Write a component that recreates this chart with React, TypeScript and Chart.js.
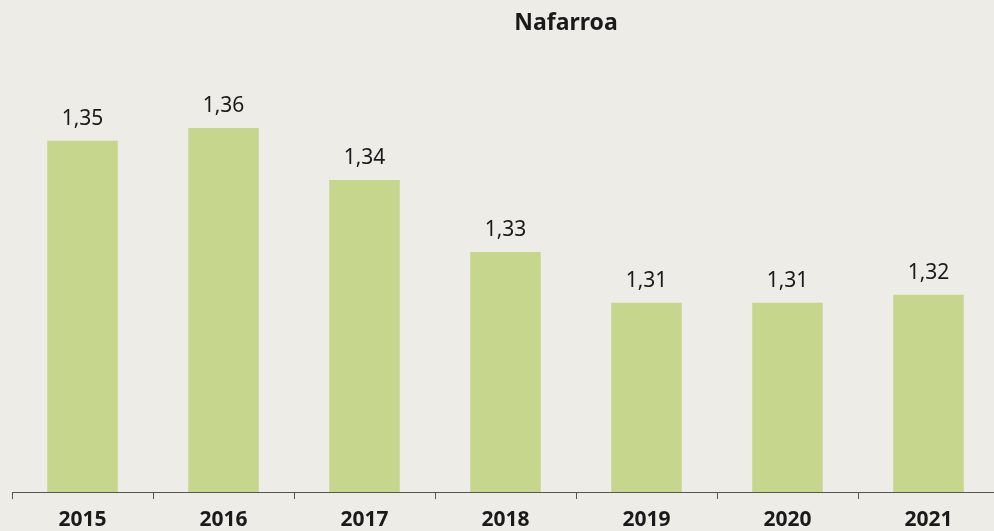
import React, { useEffect, useRef } from "react";
import { Chart, registerables } from "chart.js";

Chart.register(...registerables);

const categories = ["2015", "2016", "2017", "2018", "2019", "2020", "2021"];
const values = [1.3543, 1.3575, 1.3445, 1.3265, 1.3138, 1.3138, 1.3158];
const titleText = "Nafarroa";
const yMin = 1.2665;
const yMax = 1.3745;

const BG = "#EDECE7";
const BAR = "#C6D68C";
const INK = "#1A1A1A";
const FONT = "'Noto Sans', 'DejaVu Sans', sans-serif";

export default function App() {
  const ref = useRef<HTMLCanvasElement | null>(null);

  useEffect(() => {
    if (!ref.current) return;
    const labelPlugin = {
      id: "valueLabels",
      afterDatasetsDraw(chart: any) {
        const ctx = chart.ctx;
        const meta = chart.getDatasetMeta(0);
        ctx.save();
        ctx.fillStyle = INK;
        ctx.font = `400 21px ${FONT}`;
        ctx.textAlign = "center";
        ctx.textBaseline = "alphabetic";
        meta.data.forEach((bar: any, i: number) => {
          const txt = values[i].toFixed(2).replace(".", ",");
          ctx.fillText(txt, bar.x, bar.y - 16);
        });
        ctx.restore();
      },
    };
    const titlePlugin = {
      id: "customTitle",
      afterDraw(chart: any) {
        const ctx = chart.ctx;
        ctx.save();
        ctx.fillStyle = INK;
        ctx.font = `700 23px ${FONT}`;
        ctx.textAlign = "center";
        ctx.textBaseline = "alphabetic";
        ctx.fillText(titleText, chart.width * 0.566, 30);
        ctx.restore();
      },
    };
    const chart = new Chart(ref.current, {
      type: "bar",
      data: {
        labels: categories,
        datasets: [
          {
            data: values,
            backgroundColor: BAR,
            borderWidth: 0,
            categoryPercentage: 1,
            barPercentage: 0.5,
          },
        ],
      },
      options: {
        responsive: false,
        animation: false,
        layout: { padding: { left: 12, right: 1, top: 60, bottom: 0 } },
        plugins: {
          legend: { display: false },
          title: { display: false },
          tooltip: { enabled: false },
        },
        scales: {
          x: {
            offset: true,
            afterFit(scale: any) {
              scale.height = 39;
            },
            grid: {
              offset: true,
              drawOnChartArea: false,
              drawTicks: true,
              tickLength: 7,
              color: "#555555",
            },
            border: { display: true, color: "#555555", width: 1 },
            ticks: {
              color: INK,
              font: { family: FONT, size: 21, weight: "bold" },
              padding: 8,
              maxRotation: 0,
            },
          },
          y: {
            display: false,
            min: yMin,
            max: yMax,
          },
        },
      },
      plugins: [labelPlugin, titlePlugin],
    });
    return () => chart.destroy();
  }, []);

  return (
    <div
      style={{
        position: "fixed",
        left: 0,
        top: 0,
        right: 0,
        bottom: 0,
        background: BG,
        overflow: "hidden",
      }}
    >
      <canvas
        ref={ref}
        width={1000}
        height={531}
        style={{ position: "absolute", left: 0, top: 0, width: 1000, height: 531 }}
      />
    </div>
  );
}
